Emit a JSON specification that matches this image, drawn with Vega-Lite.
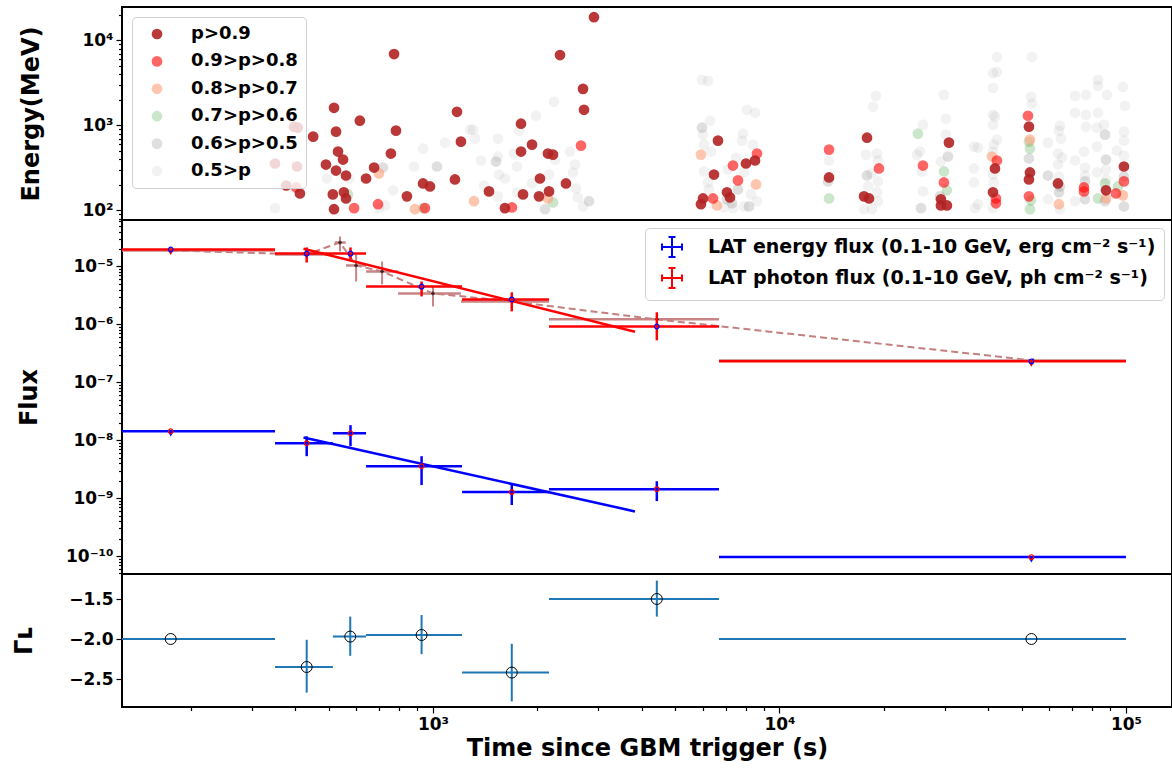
{
 "$schema": "https://vega.github.io/schema/vega-lite/v6.json",
 "padding": {"left": 11, "top": 4, "right": 0, "bottom": 0},
 "spacing": 0,
 "bounds": "flush",
 "config": {
  "font": "DejaVu Sans",
  "view": {"stroke": "black", "strokeWidth": 2},
  "axis": {"labelFontWeight": "bold", "titleFontWeight": "bold", "labelFontSize": 17, "titleFontSize": 24, "labelColor": "black", "titleColor": "black", "tickColor": "black", "domain": false, "grid": false, "tickWidth": 1.2, "labelPadding": 3, "labelOverlap": false, "labelFlush": false},
  "legend": {"labelFontWeight": "bold", "labelFontSize": 18, "labelColor": "black"}
 },
 "resolve": {"scale": {"color": "independent", "stroke": "independent"}, "legend": {"color": "independent"}},
 "datasets": {
  "photons": [
   {"t":881,"e":328,"p":"0.5>p"},{"t":936,"e":533,"p":"0.5>p"},{"t":1083,"e":627,"p":"0.5>p"},{"t":494,"e":237,"p":"0.5>p"},{"t":572,"e":237,"p":"0.5>p"},{"t":767,"e":172,"p":"0.5>p"},{"t":698,"e":106,"p":"0.5>p"},{"t":727,"e":114,"p":"0.5>p"},{"t":350,"e":106,"p":"0.5>p"},{"t":1279,"e":890,"p":"0.5>p"},{"t":2235,"e":1896,"p":"0.5>p"},{"t":1983,"e":1299,"p":"0.5>p"},{"t":1305,"e":890,"p":"0.5>p"},{"t":1322,"e":698,"p":"0.5>p"},{"t":1540,"e":698,"p":"0.5>p"},{"t":1771,"e":867,"p":"0.5>p"},{"t":1713,"e":466,"p":"0.5>p"},{"t":1540,"e":430,"p":"0.5>p"},{"t":1376,"e":386,"p":"0.5>p"},{"t":1747,"e":328,"p":"0.5>p"},{"t":2250,"e":396,"p":"0.5>p"},{"t":2485,"e":492,"p":"0.5>p"},{"t":2569,"e":346,"p":"0.5>p"},{"t":1550,"e":264,"p":"0.5>p"},{"t":1613,"e":237,"p":"0.5>p"},{"t":2162,"e":264,"p":"0.5>p"},{"t":2535,"e":279,"p":"0.5>p"},{"t":1931,"e":207,"p":"0.5>p"},{"t":1404,"e":196,"p":"0.5>p"},{"t":1747,"e":163,"p":"0.5>p"},{"t":2586,"e":181,"p":"0.5>p"},{"t":1540,"e":146,"p":"0.5>p"},{"t":2621,"e":142,"p":"0.5>p"},{"t":2710,"e":111,"p":"0.5>p"},{"t":5975,"e":3434,"p":"0.5>p"},{"t":6219,"e":3342,"p":"0.5>p"},{"t":6302,"e":1135,"p":"0.5>p"},{"t":6015,"e":778,"p":"0.5>p"},{"t":6055,"e":594,"p":"0.5>p"},{"t":6344,"e":492,"p":"0.5>p"},{"t":6055,"e":287,"p":"0.5>p"},{"t":6219,"e":213,"p":"0.5>p"},{"t":6260,"e":176,"p":"0.5>p"},{"t":8058,"e":1528,"p":"0.5>p"},{"t":8499,"e":1409,"p":"0.5>p"},{"t":7847,"e":799,"p":"0.5>p"},{"t":7795,"e":662,"p":"0.5>p"},{"t":8386,"e":594,"p":"0.5>p"},{"t":7489,"e":418,"p":"0.5>p"},{"t":7898,"e":279,"p":"0.5>p"},{"t":7101,"e":303,"p":"0.5>p"},{"t":6914,"e":108,"p":"0.5>p"},{"t":7342,"e":106,"p":"0.5>p"},{"t":8275,"e":154,"p":"0.5>p"},{"t":8613,"e":128,"p":"0.5>p"},{"t":7898,"e":111,"p":"0.5>p"},{"t":13900,"e":386,"p":"0.5>p"},{"t":18990,"e":2229,"p":"0.5>p"},{"t":18620,"e":1657,"p":"0.5>p"},{"t":17770,"e":453,"p":"0.5>p"},{"t":19110,"e":466,"p":"0.5>p"},{"t":19240,"e":386,"p":"0.5>p"},{"t":18370,"e":272,"p":"0.5>p"},{"t":18010,"e":191,"p":"0.5>p"},{"t":19240,"e":219,"p":"0.5>p"},{"t":19110,"e":163,"p":"0.5>p"},{"t":19240,"e":128,"p":"0.5>p"},{"t":17540,"e":103,"p":"0.5>p"},{"t":18490,"e":103,"p":"0.5>p"},{"t":25950,"e":1019,"p":"0.5>p"},{"t":25440,"e":492,"p":"0.5>p"},{"t":24940,"e":453,"p":"0.5>p"},{"t":25780,"e":287,"p":"0.5>p"},{"t":25950,"e":167,"p":"0.5>p"},{"t":29830,"e":2290,"p":"0.5>p"},{"t":30230,"e":1198,"p":"0.5>p"},{"t":30230,"e":778,"p":"0.5>p"},{"t":29240,"e":375,"p":"0.5>p"},{"t":42430,"e":6389,"p":"0.5>p"},{"t":41320,"e":4147,"p":"0.5>p"},{"t":42430,"e":4262,"p":"0.5>p"},{"t":41320,"e":2767,"p":"0.5>p"},{"t":41320,"e":1335,"p":"0.5>p"},{"t":41870,"e":1265,"p":"0.5>p"},{"t":41320,"e":1019,"p":"0.5>p"},{"t":42430,"e":680,"p":"0.5>p"},{"t":41590,"e":594,"p":"0.5>p"},{"t":36420,"e":563,"p":"0.5>p"},{"t":37400,"e":548,"p":"0.5>p"},{"t":41320,"e":492,"p":"0.5>p"},{"t":36420,"e":311,"p":"0.5>p"},{"t":41320,"e":264,"p":"0.5>p"},{"t":36420,"e":213,"p":"0.5>p"},{"t":41590,"e":213,"p":"0.5>p"},{"t":37400,"e":118,"p":"0.5>p"},{"t":36660,"e":106,"p":"0.5>p"},{"t":41320,"e":106,"p":"0.5>p"},{"t":53550,"e":6389,"p":"0.5>p"},{"t":53190,"e":2170,"p":"0.5>p"},{"t":53550,"e":1796,"p":"0.5>p"},{"t":59560,"e":627,"p":"0.5>p"},{"t":59560,"e":135,"p":"0.5>p"},{"t":64490,"e":992,"p":"0.5>p"},{"t":64070,"e":867,"p":"0.5>p"},{"t":64930,"e":698,"p":"0.5>p"},{"t":63650,"e":466,"p":"0.5>p"},{"t":65360,"e":418,"p":"0.5>p"},{"t":63650,"e":346,"p":"0.5>p"},{"t":64070,"e":250,"p":"0.5>p"},{"t":64490,"e":103,"p":"0.5>p"},{"t":71270,"e":2229,"p":"0.5>p"},{"t":76670,"e":2290,"p":"0.5>p"},{"t":71270,"e":1409,"p":"0.5>p"},{"t":76670,"e":1335,"p":"0.5>p"},{"t":76670,"e":966,"p":"0.5>p"},{"t":75660,"e":492,"p":"0.5>p"},{"t":71270,"e":386,"p":"0.5>p"},{"t":76160,"e":319,"p":"0.5>p"},{"t":76160,"e":257,"p":"0.5>p"},{"t":71270,"e":128,"p":"0.5>p"},{"t":83040,"e":3434,"p":"0.5>p"},{"t":83040,"e":2921,"p":"0.5>p"},{"t":88150,"e":2290,"p":"0.5>p"},{"t":83040,"e":1409,"p":"0.5>p"},{"t":82480,"e":940,"p":"0.5>p"},{"t":86410,"e":1019,"p":"0.5>p"},{"t":82480,"e":563,"p":"0.5>p"},{"t":87570,"e":303,"p":"0.5>p"},{"t":82480,"e":279,"p":"0.5>p"},{"t":87570,"e":231,"p":"0.5>p"},{"t":94190,"e":505,"p":"0.5>p"},{"t":98020,"e":2843,"p":"0.5>p"},{"t":99330,"e":1702,"p":"0.5>p"},{"t":98670,"e":844,"p":"0.5>p"},{"t":98670,"e":662,"p":"0.5>p"},{"t":98670,"e":441,"p":"0.5>p"},
   {"t":717,"e":319,"p":"0.6>p>0.5"},{"t":1027,"e":328,"p":"0.6>p>0.5"},{"t":2820,"e":128,"p":"0.6>p>0.5"},{"t":2105,"e":103,"p":"0.6>p>0.5"},{"t":1520,"e":375,"p":"0.6>p>0.5"},{"t":5975,"e":940,"p":"0.6>p>0.5"},{"t":7590,"e":176,"p":"0.6>p>0.5"},{"t":7293,"e":121,"p":"0.6>p>0.5"},{"t":8166,"e":111,"p":"0.6>p>0.5"},{"t":7053,"e":135,"p":"0.6>p>0.5"},{"t":13800,"e":219,"p":"0.6>p>0.5"},{"t":17890,"e":257,"p":"0.6>p>0.5"},{"t":25610,"e":106,"p":"0.6>p>0.5"},{"t":30640,"e":430,"p":"0.6>p>0.5"},{"t":29050,"e":146,"p":"0.6>p>0.5"},{"t":52480,"e":407,"p":"0.6>p>0.5"},{"t":64070,"e":163,"p":"0.6>p>0.5"},{"t":64490,"e":191,"p":"0.6>p>0.5"},{"t":76160,"e":219,"p":"0.6>p>0.5"},{"t":76160,"e":135,"p":"0.6>p>0.5"},{"t":86990,"e":778,"p":"0.6>p>0.5"},{"t":87570,"e":396,"p":"0.6>p>0.5"},{"t":86990,"e":128,"p":"0.6>p>0.5"},{"t":98670,"e":250,"p":"0.6>p>0.5"},{"t":98670,"e":111,"p":"0.6>p>0.5"},{"t":59560,"e":257,"p":"0.6>p>0.5"},
   {"t":568,"e":154,"p":"0.7>p>0.6"},{"t":936,"e":106,"p":"0.7>p>0.6"},{"t":2220,"e":124,"p":"0.7>p>0.6"},{"t":13900,"e":138,"p":"0.7>p>0.6"},{"t":25100,"e":799,"p":"0.7>p>0.6"},{"t":29830,"e":287,"p":"0.7>p>0.6"},{"t":30430,"e":172,"p":"0.7>p>0.6"},{"t":52480,"e":644,"p":"0.7>p>0.6"},{"t":52840,"e":533,"p":"0.7>p>0.6"},{"t":53190,"e":131,"p":"0.7>p>0.6"},{"t":52840,"e":103,"p":"0.7>p>0.6"},{"t":86990,"e":207,"p":"0.7>p>0.6"},{"t":83040,"e":138,"p":"0.7>p>0.6"},{"t":94820,"e":191,"p":"0.7>p>0.6"},
   {"t":698,"e":272,"p":"0.8>p>0.7"},{"t":887,"e":103,"p":"0.8>p>0.7"},{"t":1313,"e":128,"p":"0.8>p>0.7"},{"t":2147,"e":138,"p":"0.8>p>0.7"},{"t":5935,"e":453,"p":"0.8>p>0.7"},{"t":8556,"e":202,"p":"0.8>p>0.7"},{"t":6601,"e":114,"p":"0.8>p>0.7"},{"t":41050,"e":430,"p":"0.8>p>0.7"},{"t":52840,"e":680,"p":"0.8>p>0.7"},{"t":64070,"e":118,"p":"0.8>p>0.7"},{"t":87570,"e":138,"p":"0.8>p>0.7"},{"t":98020,"e":150,"p":"0.8>p>0.7"},
   {"t":403,"e":186,"p":"0.9>p>0.8"},{"t":592,"e":106,"p":"0.9>p>0.8"},{"t":694,"e":118,"p":"0.9>p>0.8"},{"t":948,"e":106,"p":"0.9>p>0.8"},{"t":2674,"e":578,"p":"0.9>p>0.8"},{"t":1690,"e":108,"p":"0.9>p>0.8"},{"t":8613,"e":466,"p":"0.9>p>0.8"},{"t":7342,"e":337,"p":"0.9>p>0.8"},{"t":7590,"e":225,"p":"0.9>p>0.8"},{"t":6430,"e":138,"p":"0.9>p>0.8"},{"t":13900,"e":519,"p":"0.9>p>0.8"},{"t":19370,"e":311,"p":"0.9>p>0.8"},{"t":25950,"e":337,"p":"0.9>p>0.8"},{"t":29830,"e":213,"p":"0.9>p>0.8"},{"t":42430,"e":386,"p":"0.9>p>0.8"},{"t":42150,"e":138,"p":"0.9>p>0.8"},{"t":42150,"e":121,"p":"0.9>p>0.8"},{"t":52150,"e":1299,"p":"0.9>p>0.8"},{"t":52480,"e":146,"p":"0.9>p>0.8"},{"t":75660,"e":186,"p":"0.9>p>0.8"},{"t":75660,"e":167,"p":"0.9>p>0.8"},{"t":93570,"e":158,"p":"0.9>p>0.8"},{"t":98670,"e":219,"p":"0.9>p>0.8"},
   {"t":772,"e":6929,"p":"p>0.9"},{"t":518,"e":1612,"p":"p>0.9"},{"t":1173,"e":1447,"p":"p>0.9"},{"t":615,"e":1135,"p":"p>0.9"},{"t":525,"e":844,"p":"p>0.9"},{"t":782,"e":867,"p":"p>0.9"},{"t":451,"e":737,"p":"p>0.9"},{"t":1204,"e":644,"p":"p>0.9"},{"t":532,"e":492,"p":"p>0.9"},{"t":756,"e":466,"p":"p>0.9"},{"t":550,"e":396,"p":"p>0.9"},{"t":491,"e":346,"p":"p>0.9"},{"t":676,"e":319,"p":"p>0.9"},{"t":525,"e":294,"p":"p>0.9"},{"t":561,"e":257,"p":"p>0.9"},{"t":641,"e":237,"p":"p>0.9"},{"t":1157,"e":231,"p":"p>0.9"},{"t":936,"e":207,"p":"p>0.9"},{"t":980,"e":191,"p":"p>0.9"},{"t":514,"e":154,"p":"p>0.9"},{"t":413,"e":158,"p":"p>0.9"},{"t":553,"e":163,"p":"p>0.9"},{"t":561,"e":138,"p":"p>0.9"},{"t":841,"e":146,"p":"p>0.9"},{"t":518,"e":103,"p":"p>0.9"},{"t":397,"e":966,"p":"p>0.9"},{"t":407,"e":940,"p":"p>0.9"},{"t":350,"e":356,"p":"p>0.9"},{"t":405,"e":328,"p":"p>0.9"},{"t":377,"e":196,"p":"p>0.9"},{"t":2915,"e":18800,"p":"p>0.9"},{"t":2326,"e":6743,"p":"p>0.9"},{"t":2710,"e":2693,"p":"p>0.9"},{"t":2728,"e":1528,"p":"p>0.9"},{"t":1795,"e":1047,"p":"p>0.9"},{"t":1931,"e":594,"p":"p>0.9"},{"t":1795,"e":492,"p":"p>0.9"},{"t":2147,"e":466,"p":"p>0.9"},{"t":2220,"e":453,"p":"p>0.9"},{"t":2036,"e":237,"p":"p>0.9"},{"t":2420,"e":207,"p":"p>0.9"},{"t":1451,"e":167,"p":"p>0.9"},{"t":1819,"e":154,"p":"p>0.9"},{"t":2023,"e":146,"p":"p>0.9"},{"t":2162,"e":167,"p":"p>0.9"},{"t":1613,"e":106,"p":"p>0.9"},{"t":6645,"e":662,"p":"p>0.9"},{"t":6471,"e":264,"p":"p>0.9"},{"t":8004,"e":356,"p":"p>0.9"},{"t":8499,"e":386,"p":"p>0.9"},{"t":7053,"e":163,"p":"p>0.9"},{"t":7196,"e":142,"p":"p>0.9"},{"t":6015,"e":138,"p":"p>0.9"},{"t":5935,"e":118,"p":"p>0.9"},{"t":13900,"e":244,"p":"p>0.9"},{"t":17890,"e":717,"p":"p>0.9"},{"t":17540,"e":146,"p":"p>0.9"},{"t":18130,"e":138,"p":"p>0.9"},{"t":30840,"e":627,"p":"p>0.9"},{"t":29240,"e":135,"p":"p>0.9"},{"t":29240,"e":114,"p":"p>0.9"},{"t":30430,"e":114,"p":"p>0.9"},{"t":41870,"e":311,"p":"p>0.9"},{"t":41320,"e":163,"p":"p>0.9"},{"t":52480,"e":966,"p":"p>0.9"},{"t":52840,"e":279,"p":"p>0.9"},{"t":52480,"e":231,"p":"p>0.9"},{"t":63650,"e":207,"p":"p>0.9"},{"t":87570,"e":172,"p":"p>0.9"},{"t":98670,"e":328,"p":"p>0.9"}
  ],
  "flux": [
   {"series":"LAT energy flux (0.1-10 GeV, erg cm⁻² s⁻¹)","t":175,"t0":100,"t1":350,"f":1.43e-8,"flo":null,"fhi":null,"ul":true},
   {"series":"LAT energy flux (0.1-10 GeV, erg cm⁻² s⁻¹)","t":432,"t0":350,"t1":514,"f":8.9e-9,"flo":5.3e-9,"fhi":1.17e-8,"ul":false},
   {"series":"LAT energy flux (0.1-10 GeV, erg cm⁻² s⁻¹)","t":578,"t0":514,"t1":641,"f":1.32e-8,"flo":7.9e-9,"fhi":1.82e-8,"ul":false},
   {"series":"LAT energy flux (0.1-10 GeV, erg cm⁻² s⁻¹)","t":927,"t0":641,"t1":1213,"f":3.57e-9,"flo":1.68e-9,"fhi":5.3e-9,"ul":false},
   {"series":"LAT energy flux (0.1-10 GeV, erg cm⁻² s⁻¹)","t":1688,"t0":1213,"t1":2162,"f":1.27e-9,"flo":7.6e-10,"fhi":1.74e-9,"ul":false},
   {"series":"LAT energy flux (0.1-10 GeV, erg cm⁻² s⁻¹)","t":4426,"t0":2162,"t1":6690,"f":1.43e-9,"flo":8.9e-10,"fhi":1.96e-9,"ul":false},
   {"series":"LAT energy flux (0.1-10 GeV, erg cm⁻² s⁻¹)","t":53345,"t0":6690,"t1":100000,"f":9.6e-11,"flo":null,"fhi":null,"ul":true},
   {"series":"LAT photon flux (0.1-10 GeV, ph cm⁻² s⁻¹)","t":175,"t0":100,"t1":350,"f":1.96e-5,"flo":null,"fhi":null,"ul":true},
   {"series":"LAT photon flux (0.1-10 GeV, ph cm⁻² s⁻¹)","t":432,"t0":350,"t1":514,"f":1.67e-5,"flo":1.17e-5,"fhi":2.13e-5,"ul":false},
   {"series":"LAT photon flux (0.1-10 GeV, ph cm⁻² s⁻¹)","t":578,"t0":514,"t1":641,"f":1.67e-5,"flo":1.32e-5,"fhi":2.13e-5,"ul":false},
   {"series":"LAT photon flux (0.1-10 GeV, ph cm⁻² s⁻¹)","t":927,"t0":641,"t1":1213,"f":4.5e-6,"flo":3.04e-6,"fhi":5.5e-6,"ul":false},
   {"series":"LAT photon flux (0.1-10 GeV, ph cm⁻² s⁻¹)","t":1688,"t0":1213,"t1":2162,"f":2.7e-6,"flo":1.68e-6,"fhi":3.56e-6,"ul":false},
   {"series":"LAT photon flux (0.1-10 GeV, ph cm⁻² s⁻¹)","t":4426,"t0":2162,"t1":6690,"f":9.2e-7,"flo":5.3e-7,"fhi":1.61e-6,"ul":false},
   {"series":"LAT photon flux (0.1-10 GeV, ph cm⁻² s⁻¹)","t":53345,"t0":6690,"t1":100000,"f":2.3e-7,"flo":null,"fhi":null,"ul":true}
  ],
  "powerlaw": [
   {"grp":"photon","t":423,"f":2.02e-5},{"grp":"photon","t":3828,"f":7.48e-7},
   {"grp":"energy","t":423,"f":1.11e-8},{"grp":"energy","t":3828,"f":5.9e-10}
  ],
  "fine": [
   {"t":175,"f":1.89e-5,"t0":100,"t1":350,"flo":null,"fhi":null},
   {"t":430,"f":1.61e-5,"t0":350,"t1":514,"flo":null,"fhi":null},
   {"t":539,"f":2.59e-5,"t0":520,"t1":560,"flo":1.82e-5,"fhi":3.29e-5},
   {"t":600,"f":1.04e-5,"t0":561,"t1":641,"flo":5.5e-6,"fhi":1.61e-5},
   {"t":713,"f":8.2e-6,"t0":641,"t1":793,"flo":4.9e-6,"fhi":1.22e-5},
   {"t":1000,"f":3.42e-6,"t0":793,"t1":1204,"flo":2.04e-6,"fhi":4.52e-6},
   {"t":1691,"f":2.49e-6,"t0":1204,"t1":2162,"flo":1.8e-6,"fhi":3.56e-6},
   {"t":4431,"f":1.22e-6,"t0":2162,"t1":6690,"flo":1.0e-6,"fhi":1.61e-6},
   {"t":53900,"f":2.39e-7,"t0":6690,"t1":100000,"flo":null,"fhi":null}
  ],
  "gamma": [
   {"t":175,"t0":100,"t1":350,"g":-2.0,"glo":null,"ghi":null},
   {"t":432,"t0":350,"t1":514,"g":-2.35,"glo":-2.67,"ghi":-2.01},
   {"t":577,"t0":514,"t1":641,"g":-1.97,"glo":-2.21,"ghi":-1.72},
   {"t":927,"t0":641,"t1":1213,"g":-1.95,"glo":-2.19,"ghi":-1.70},
   {"t":1688,"t0":1213,"t1":2162,"g":-2.42,"glo":-2.78,"ghi":-2.06},
   {"t":4426,"t0":2162,"t1":6690,"g":-1.50,"glo":-1.72,"ghi":-1.27},
   {"t":53345,"t0":6690,"t1":100000,"g":-2.0,"glo":null,"ghi":null}
  ]
 },
 "vconcat": [
  {
   "width": 1050, "height": 213,
   "data": {"name": "photons"},
   "mark": {"type": "circle", "size": 115, "opacity": 1},
   "encoding": {
    "x": {"field": "t", "type": "quantitative", "scale": {"type": "log", "domain": [126.6, 135800], "nice": false}, "axis": null},
    "y": {"field": "e", "type": "quantitative", "scale": {"type": "log", "domain": [76.9, 24800], "nice": false},
     "axis": {"title": "Energy(MeV)", "titleX": -91, "titleBaseline": "middle", "values": [80,90,100,200,300,400,500,600,700,800,900,1000,2000,3000,4000,5000,6000,7000,8000,9000,10000,20000],
      "labelExpr": "datum.value == 100 ? '10²' : datum.value == 1000 ? '10³' : datum.value == 10000 ? '10⁴' : ''",
      "tickSize": {"condition": {"test": "abs(log(datum.value)/LN10 - round(log(datum.value)/LN10)) < 0.000001", "value": 6}, "value": 3.5}}},
    "color": {"field": "p", "type": "nominal",
     "scale": {"domain": ["p>0.9", "0.9>p>0.8", "0.8>p>0.7", "0.7>p>0.6", "0.6>p>0.5", "0.5>p"],
      "range": ["rgba(178,34,34,0.9)", "rgba(255,0,0,0.6)", "rgba(255,160,122,0.6)", "rgba(0,128,0,0.2)", "rgba(128,128,128,0.25)", "rgba(128,128,128,0.1)"]},
     "legend": {"title": null, "orient": "top-left", "offset": 10, "padding": 8, "symbolSize": 115, "symbolOffset": 8, "labelOffset": 25, "rowPadding": 9.4, "fillColor": "rgba(255,255,255,0.8)", "strokeColor": "#d0d0d0", "cornerRadius": 4, "symbolStrokeWidth": 0, "labelFontSize": 18}}
   }
  },
  {
   "width": 1050, "height": 354,
   "encoding": {
    "x": {"field": "t", "type": "quantitative", "scale": {"type": "log", "domain": [126.6, 135800], "nice": false}, "axis": null}
   },
   "layer": [
    {"data": {"name": "fine"}, "mark": {"type": "rule", "color": "#c98585", "strokeWidth": 2.5, "clip": true},
     "encoding": {"x": {"field": "t0", "type": "quantitative"}, "x2": {"field": "t1"},
      "y": {"field": "f", "type": "quantitative", "scale": {"type": "log", "domain": [4.9e-11, 6.34e-5], "nice": false},
       "axis": {"title": "Flux", "titleX": -93, "titleBaseline": "middle",
        "values": [5e-11,6e-11,7e-11,8e-11,9e-11,1e-10,2e-10,3e-10,4e-10,5e-10,6e-10,7e-10,8e-10,9e-10,1e-9,2e-9,3e-9,4e-9,5e-9,6e-9,7e-9,8e-9,9e-9,1e-8,2e-8,3e-8,4e-8,5e-8,6e-8,7e-8,8e-8,9e-8,1e-7,2e-7,3e-7,4e-7,5e-7,6e-7,7e-7,8e-7,9e-7,1e-6,2e-6,3e-6,4e-6,5e-6,6e-6,7e-6,8e-6,9e-6,1e-5,2e-5,3e-5,4e-5,5e-5,6e-5],
        "labelExpr": "datum.value == 1e-5 ? '10⁻⁵' : datum.value == 1e-6 ? '10⁻⁶' : datum.value == 1e-7 ? '10⁻⁷' : datum.value == 1e-8 ? '10⁻⁸' : datum.value == 1e-9 ? '10⁻⁹' : datum.value == 1e-10 ? '10⁻¹⁰' : ''",
        "tickSize": {"condition": {"test": "abs(log(datum.value)/LN10 - round(log(datum.value)/LN10)) < 0.000001", "value": 6}, "value": 3.5}}}}},
    {"data": {"name": "fine"}, "transform": [{"filter": "datum.flo != null"}], "mark": {"type": "rule", "color": "#c98585", "strokeWidth": 2},
     "encoding": {"y": {"field": "flo", "type": "quantitative"}, "y2": {"field": "fhi"}}},
    {"data": {"name": "fine"}, "mark": {"type": "line", "color": "#c47f7f", "strokeWidth": 2, "strokeDash": [7, 4]},
     "encoding": {"y": {"field": "f", "type": "quantitative"}}},
    {"data": {"name": "fine"}, "mark": {"type": "point", "shape": "cross", "filled": true, "color": "#3b2222", "size": 14, "opacity": 1},
     "encoding": {"y": {"field": "f", "type": "quantitative"}}},
    {"data": {"name": "flux"}, "mark": {"type": "rule", "strokeWidth": 2.5, "clip": true},
     "encoding": {"x": {"field": "t0", "type": "quantitative"}, "x2": {"field": "t1"}, "y": {"field": "f", "type": "quantitative"},
      "color": {"field": "series", "type": "nominal",
       "scale": {"domain": ["LAT energy flux (0.1-10 GeV, erg cm⁻² s⁻¹)", "LAT photon flux (0.1-10 GeV, ph cm⁻² s⁻¹)"], "range": ["#0000ff", "#ff0000"]},
       "legend": {"title": null, "orient": "top-right", "offset": 8, "padding": 8, "symbolType": "M-1,0H1M0,-1V1M-1,-0.35V0.35M1,-0.35V0.35M-0.35,-1H0.35M-0.35,1H0.35", "symbolSize": 400, "symbolStrokeWidth": 2, "symbolOffset": 8, "labelOffset": 25, "rowPadding": 3, "labelLimit": 700, "fillColor": "rgba(255,255,255,0.8)", "strokeColor": "#d0d0d0", "cornerRadius": 4, "labelFontSize": 19}}}},
    {"data": {"name": "flux"}, "transform": [{"filter": "datum.flo != null"}], "mark": {"type": "rule", "strokeWidth": 2.5},
     "encoding": {"y": {"field": "flo", "type": "quantitative"}, "y2": {"field": "fhi"},
      "color": {"field": "series", "type": "nominal"}}},
    {"data": {"name": "powerlaw"}, "transform": [{"filter": "datum.grp == 'photon'"}], "mark": {"type": "line", "color": "#ff0000", "strokeWidth": 2.5},
     "encoding": {"y": {"field": "f", "type": "quantitative"}}},
    {"data": {"name": "powerlaw"}, "transform": [{"filter": "datum.grp == 'energy'"}], "mark": {"type": "line", "color": "#0000ff", "strokeWidth": 2.5},
     "encoding": {"y": {"field": "f", "type": "quantitative"}}},
    {"data": {"name": "flux"}, "transform": [{"filter": "datum.ul"}], "mark": {"type": "point", "shape": "triangle-down", "filled": true, "size": 30, "opacity": 1, "yOffset": 3},
     "encoding": {"y": {"field": "f", "type": "quantitative"}, "color": {"field": "series", "type": "nominal"}}},
    {"data": {"name": "flux"}, "mark": {"type": "point", "shape": "circle", "filled": false, "size": 22, "strokeWidth": 1.2, "opacity": 1},
     "encoding": {"y": {"field": "f", "type": "quantitative"},
      "stroke": {"field": "series", "type": "nominal", "scale": {"domain": ["LAT energy flux (0.1-10 GeV, erg cm⁻² s⁻¹)", "LAT photon flux (0.1-10 GeV, ph cm⁻² s⁻¹)"], "range": ["#ff0000", "#0000ff"]}, "legend": null}}}
   ]
  },
  {
   "width": 1050, "height": 133,
   "data": {"name": "gamma"},
   "encoding": {
    "x": {"field": "t", "type": "quantitative", "scale": {"type": "log", "domain": [126.6, 135800], "nice": false},
     "axis": {"title": "Time since GBM trigger (s)", "values": [200,300,400,500,600,700,800,900,1000,2000,3000,4000,5000,6000,7000,8000,9000,10000,20000,30000,40000,50000,60000,70000,80000,90000,100000],
      "labelExpr": "datum.value == 1000 ? '10³' : datum.value == 10000 ? '10⁴' : datum.value == 100000 ? '10⁵' : ''",
      "tickSize": {"condition": {"test": "abs(log(datum.value)/LN10 - round(log(datum.value)/LN10)) < 0.000001", "value": 6}, "value": 3.5}}}
   },
   "layer": [
    {"mark": {"type": "rule", "color": "#1f77b4", "strokeWidth": 2, "clip": true},
     "encoding": {"x": {"field": "t0", "type": "quantitative"}, "x2": {"field": "t1"},
      "y": {"field": "g", "type": "quantitative", "scale": {"domain": [-2.85, -1.1875], "nice": false, "zero": false},
       "axis": {"title": "Γʟ", "titleX": -98, "titleBaseline": "middle", "titleFontSize": 24, "values": [-2.5, -2.0, -1.5], "format": ".1f", "tickSize": 6}}}},
    {"transform": [{"filter": "datum.glo != null"}], "mark": {"type": "rule", "color": "#1f77b4", "strokeWidth": 2},
     "encoding": {"y": {"field": "glo", "type": "quantitative"}, "y2": {"field": "ghi"}}},
    {"mark": {"type": "point", "shape": "circle", "filled": false, "color": "black", "size": 120, "strokeWidth": 1, "opacity": 1},
     "encoding": {"y": {"field": "g", "type": "quantitative"}}}
   ]
  }
 ]
}
